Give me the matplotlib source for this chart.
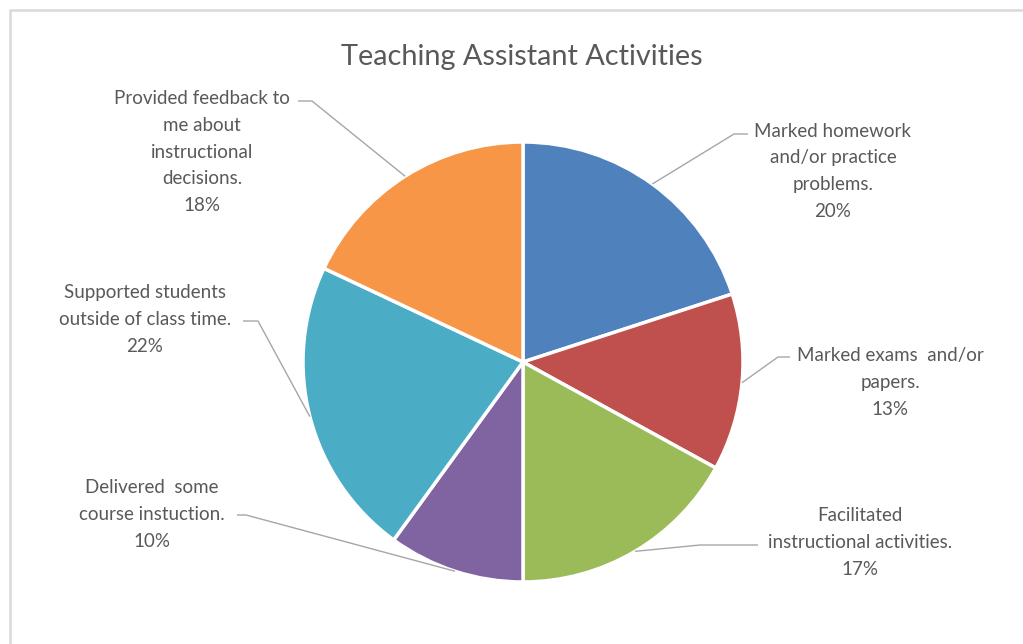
import numpy as np
import matplotlib.pyplot as plt
from matplotlib.patches import Rectangle

# activity shares, clockwise from 12 o'clock
activities = [
    "Marked homework\nand/or practice\nproblems.",
    "Marked exams  and/or\npapers.",
    "Facilitated\ninstructional activities.",
    "Delivered  some\ncourse instuction.",
    "Supported students\noutside of class time.",
    "Provided feedback to\nme about\ninstructional\ndecisions.",
]
shares = [20, 13, 17, 10, 22, 18]
colors = ["#4F81BD", "#C0504D", "#9BBB59", "#8064A2", "#4BACC6", "#F79646"]

W, H = 1023, 644
plt.rcParams["font.family"] = ["Lato", "DejaVu Sans"]

fig = plt.figure(figsize=(W / 100, H / 100), dpi=100)
ax = fig.add_axes([0, 0, 1, 1])

def py(y):
    # flip screen-style y to data y
    return H - y

cx, cy, rad = 523, py(362), 220
wedges, _ = ax.pie(shares, colors=colors, startangle=90, counterclock=False,
                   center=(cx, cy), radius=rad, frame=True,
                   wedgeprops=dict(edgecolor="white", linewidth=2.5))
ax.set_xlim(0, W)
ax.set_ylim(0, H)
ax.set_aspect("auto")
ax.axis("off")

# label placement: text centre x, first-line y, elbow start, elbow end (screen px)
layout = [
    (833, 133, (748, 134), (734, 134)),
    (890, 357, (790, 357), (778, 357)),
    (860, 517, (758, 545), (700, 545)),
    (152, 489, (237, 515), (246, 515)),
    (145, 294, (243, 321), (258, 321)),
    (202, 101, (298, 101), (312, 101)),
]
line_h = 25.5

grey = "#595959"
for w, name, share, (tx, ty, p0, p1) in zip(wedges, activities, shares, layout):
    mid = np.deg2rad((w.theta1 + w.theta2) / 2)
    ex = w.center[0] + w.r * np.cos(mid)
    ey = w.center[1] + w.r * np.sin(mid)
    ax.plot([p0[0], p1[0], ex], [py(p0[1]), py(p1[1]), ey],
            color="#A6A6A6", lw=1.0, solid_capstyle="butt")
    label = f"{name}\n{share}%"
    n = label.count("\n") + 1
    ax.text(tx, py(ty + (n - 1) * line_h / 2), label, ha="center", va="center",
            fontsize=13.5, color=grey, linespacing=1.68)

ax.text(522, py(57), "Teaching Assistant Activities", ha="center", va="center",
        fontsize=20.8, color=grey)

# chart area border (top and left edges visible)
fig.patches.append(Rectangle((10 / W, -0.1), 1.2, (H - 10) / H + 0.1,
                             transform=fig.transFigure, fill=False,
                             edgecolor="#D9D9D9", lw=1.8))

fig.savefig("out.png", dpi=100, facecolor="white")
